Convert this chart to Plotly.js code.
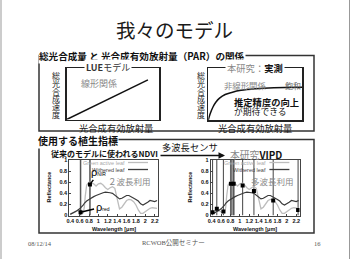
<!DOCTYPE html>
<html><head><meta charset="utf-8">
<script src="https://cdn.plot.ly/plotly-3.0.1.min.js"></script>
<style>html,body{margin:0;padding:0;background:#fff}#c{width:351px;height:259px}</style>
</head><body><div id="c"></div>
<script>
// ---- data ----
const parLinear = [0, 0.88];
const gppLinear = [0, 0.77];
const parCurve = [0, 0.02, 0.05, 0.08, 0.12, 0.18, 0.25, 0.35, 0.5, 0.7, 1.0];
const gppCurve = [0, 0.12, 0.25, 0.34, 0.42, 0.49, 0.53, 0.57, 0.6, 0.62, 0.63];
const wavelength = [0.40,0.45,0.50,0.55,0.60,0.65,0.68,0.70,0.72,0.75,0.80,0.85,0.90,0.95,1.00,1.05,1.10,1.15,1.20,1.25,1.30,1.35,1.40,1.45,1.50,1.55,1.60,1.65,1.70,1.75,1.80,1.85,1.90,1.95,2.00,2.05,2.10,2.15,2.20,2.25];
const greenActiveLeaf = [0.03,0.04,0.06,0.09,0.06,0.04,0.05,0.15,0.35,0.55,0.60,0.58,0.57,0.53,0.57,0.58,0.55,0.50,0.47,0.50,0.52,0.49,0.28,0.12,0.15,0.22,0.27,0.29,0.28,0.25,0.19,0.10,0.04,0.04,0.07,0.10,0.13,0.14,0.14,0.13];
const witheredLeaf = [0.02,0.04,0.06,0.09,0.12,0.16,0.19,0.22,0.24,0.26,0.29,0.32,0.34,0.36,0.38,0.40,0.41,0.42,0.42,0.41,0.40,0.37,0.33,0.30,0.31,0.34,0.36,0.36,0.34,0.32,0.29,0.26,0.21,0.19,0.21,0.24,0.27,0.26,0.25,0.27];
const ndviBands = [0.62, 0.82];
const ndviReflectance = [0.06, 0.56];
const vipdBands = [0.42, 0.51, 0.65, 0.81, 0.87, 1.06, 1.30, 1.71, 2.24];
const vipdReflectance = [0.06, 0.12, 0.07, 0.57, 0.57, 0.54, 0.44, 0.27, 0.10];
const vipdNirBand = [0.79, 0.89];
const xTickVals = [0.4,0.6,0.8,1.0,1.2,1.4,1.6,1.8,2.0,2.2];
const xTickText = ["0.4","0.6","0.8","1","1.2","1.4","1.6","1.8","2","2.2"];
const yTickVals = [0,0.2,0.4,0.6,0.8,1];
const yTickText = ["0","0.2","0.4","0.6","0.8","1"];

// ---- layout helpers ----
const W = 351, H = 259;
const px = x => x / W, py = y => 1 - y / H;
const JP = '"Noto Sans CJK JP", "Noto Sans", sans-serif';
const SANS = '"Liberation Sans", Arial, sans-serif';
const SERIF = '"Liberation Serif", "DejaVu Serif", "Noto Sans CJK JP", serif';
function ann(x, y, text, size, color, extra) {
  return Object.assign({xref:'paper', yref:'paper', x:px(x), y:py(y), text:text, showarrow:false,
    font:{family:JP, size:size, color:color}, xanchor:'center', yanchor:'middle'}, extra || {});
}
function vtext(x, yCenter0, str, size, step) {
  return Array.from(str).map((ch, i) => ann(x, yCenter0 + i * step, ch, size, '#222',
    {borderpad:0, font:{family:JP, size:size, color:'#222'}}));
}
function dom(a, b, n) { return [a / n, b / n]; }
function ydom(top, bot) { return [1 - bot / H, 1 - top / H]; }

const boxAxis = {range:[0,1], showline:true, mirror:true, linecolor:'#222', linewidth:1.5, showgrid:false, zeroline:false, showticklabels:false, ticks:'', fixedrange:true};
const specX = {range:[0.38,2.27], showline:true, mirror:true, linecolor:'#444', linewidth:1, showgrid:false, zeroline:false,
  tickvals:xTickVals, ticktext:xTickText, tickangle:0, ticks:'inside', ticklen:2, tickcolor:'#444',
  tickfont:{family:SANS, size:5.5, color:'#111', weight:'bold'}, fixedrange:true};
const specY = {range:[0,1.0], showline:true, mirror:true, linecolor:'#444', linewidth:1, showgrid:false, zeroline:false,
  tickvals:yTickVals, ticktext:yTickText, ticks:'inside', ticklen:2, tickcolor:'#444',
  tickfont:{family:SANS, size:5.5, color:'#111', weight:'bold'}, fixedrange:true};

const LIGHT = '#bdbdbd', DARK = '#3a3a3a';
const traces = [
  {x:parLinear, y:gppLinear, xaxis:'x', yaxis:'y', mode:'lines', line:{color:'#111', width:1.5}},
  {x:parCurve, y:gppCurve, xaxis:'x2', yaxis:'y2', mode:'lines', line:{color:'#111', width:1.5, shape:'spline'}},
  {x:wavelength, y:greenActiveLeaf, xaxis:'x3', yaxis:'y3', mode:'lines', line:{color:LIGHT, width:1.3}},
  {x:wavelength, y:witheredLeaf, xaxis:'x3', yaxis:'y3', mode:'lines', line:{color:DARK, width:1.2}},
  {x:ndviBands, y:ndviReflectance, xaxis:'x3', yaxis:'y3', mode:'markers', marker:{symbol:'square', size:4, color:'#000'}},
  {x:wavelength, y:greenActiveLeaf, xaxis:'x4', yaxis:'y4', mode:'lines', line:{color:LIGHT, width:1.3}},
  {x:wavelength, y:witheredLeaf, xaxis:'x4', yaxis:'y4', mode:'lines', line:{color:DARK, width:1.2}},
  {x:vipdBands, y:vipdReflectance, xaxis:'x4', yaxis:'y4', mode:'markers', marker:{symbol:'square', size:4, color:'#000'}}
];

const shapes = [];
// slide border
shapes.push({type:'line', xref:'paper', yref:'paper', x0:px(1), x1:px(1), y0:0, y1:1, line:{color:'#999', width:1}});
shapes.push({type:'line', xref:'paper', yref:'paper', x0:px(349.5), x1:px(349.5), y0:0, y1:1, line:{color:'#999', width:1}});
// outer boxes
shapes.push({type:'rect', xref:'paper', yref:'paper', x0:px(39), x1:px(314), y0:py(131), y1:py(55.5), line:{color:'#333', width:1.5}});
shapes.push({type:'rect', xref:'paper', yref:'paper', x0:px(39), x1:px(314), y0:py(233), y1:py(139.5), line:{color:'#333', width:1.5}});
// band lines
ndviBands.forEach(b => shapes.push({type:'line', xref:'x3', yref:'y3', x0:b, x1:b, y0:0, y1:1, layer:'below', line:{color:'#555', width:1.5}}));
shapes.push({type:'rect', xref:'x4', yref:'y4', x0:vipdNirBand[0], x1:vipdNirBand[1], y0:0, y1:1, layer:'below', fillcolor:'#999', line:{width:0}});
vipdBands.forEach(b => shapes.push({type:'line', xref:'x4', yref:'y4', x0:b, x1:b, y0:0, y1:1, layer:'below', line:{color:'#444', width:1}}));
// legend samples
[0, 141.4].forEach(dx => {
  shapes.push({type:'line', xref:'paper', yref:'paper', x0:px(128+dx), x1:px(148+dx), y0:py(162.5), y1:py(162.5), line:{color:LIGHT, width:1.3}});
  shapes.push({type:'line', xref:'paper', yref:'paper', x0:px(128+dx), x1:px(148+dx), y0:py(169.5), y1:py(169.5), line:{color:DARK, width:1.3}});
});

const annotations = [
  ann(174, 29, '我々のモデル', 19.5, '#1a1a1a'),
  ann(38, 56, '総光合成量 と 光合成有効放射量（PAR）の関係', 9.6, '#111', {xanchor:'left', bgcolor:'#fff', borderpad:0, font:{family:JP, size:9.6, color:'#111', weight:'bold'}}),
  ann(108, 68, '<b>LUE</b>モデル', 9, '#333', {bgcolor:'#fff', borderpad:1}),
  ann(98.5, 83.5, '線形関係', 9, '#888'),
  ann(115.5, 128, '光合成有効放射量', 9.3, '#1a1a1a'),
  ann(255, 68, '<span style="color:#888">本研究：</span><b>実測</b>', 9.3, '#111', {bgcolor:'#fff', borderpad:1}),
  ann(246, 85, '非線形関係', 8.4, '#888'),
  ann(292.5, 85, '飽和', 8, '#666'),
  ann(232, 102, '推定精度の向上', 9.3, '#111', {xanchor:'left', font:{family:JP, size:9.3, color:'#111', weight:'bold'}}),
  ann(232, 111.5, 'が期待できる', 8.8, '#111', {xanchor:'left'}),
  ann(255, 128, '光合成有効放射量', 9.3, '#1a1a1a'),
  ann(36.5, 140, '使用する植生指標', 10, '#111', {xanchor:'left', bgcolor:'#fff', borderpad:0, font:{family:JP, size:10, color:'#111', weight:'bold'}}),
  ann(104.5, 153.5, '従来のモデルに使われるNDVI', 8, '#111', {font:{family:JP, size:8, color:'#111', weight:'bold'}}),
  ann(190.5, 147, '多波長センサ', 9.3, '#111'),
  {xref:'paper', yref:'paper', x:px(225), y:py(155.5), ax:-66, ay:0, text:'', showarrow:true, arrowhead:2, arrowsize:1, arrowwidth:1.3, arrowcolor:'#111', standoff:0},
  ann(255.5, 154.5, '<span style="color:#888">本研究</span><b>VIPD</b>', 9.8, '#111'),
  // legends
  ann(127, 162.5, 'Green active leaf', 5.5, '#aaa', {xanchor:'right', font:{family:SANS, size:5.5, color:'#aaa'}}),
  ann(127, 169.5, 'Withered leaf', 5.5, '#444', {xanchor:'right', font:{family:SANS, size:5.5, color:'#444'}}),
  ann(268.4, 162.5, 'Green active leaf', 5.5, '#aaa', {xanchor:'right', font:{family:SANS, size:5.5, color:'#aaa'}}),
  ann(268.4, 169.5, 'Withered leaf', 5.5, '#444', {xanchor:'right', font:{family:SANS, size:5.5, color:'#444'}}),
  ann(129, 181, '２波長利用', 8.5, '#888'),
  ann(272.5, 180.5, '多波長利用', 8.5, '#888'),
  // axis titles of spectra
  ann(48, 187.5, 'Reflectance', 5.5, '#111', {textangle:-90, font:{family:SANS, size:5.5, color:'#111', weight:'bold'}}),
  ann(189, 187.5, 'Reflectance', 5.5, '#111', {textangle:-90, font:{family:SANS, size:5.5, color:'#111', weight:'bold'}}),
  ann(113.5, 228.5, 'Wavelength [μm]', 5.5, '#111', {font:{family:SANS, size:5.5, color:'#111', weight:'bold'}}),
  ann(255, 228.5, 'Wavelength [μm]', 5.5, '#111', {font:{family:SANS, size:5.5, color:'#111', weight:'bold'}}),
  // rho markers
  {xref:'x3', yref:'y3', x:ndviBands[1], y:ndviReflectance[1], ax:9, ay:-12, text:'ρ<span style="font-size:5px">NIR</span>', showarrow:true, arrowhead:0, arrowwidth:1.5, arrowcolor:'#000', standoff:1, font:{family:SANS, size:11, color:'#000'}},
  {xref:'x3', yref:'y3', x:ndviBands[0], y:ndviReflectance[0], ax:22, ay:-5, text:'ρ<span style="font-size:5px">red</span>', showarrow:true, arrowhead:0, arrowwidth:1.5, arrowcolor:'#000', standoff:1, font:{family:SANS, size:11, color:'#000'}},
  // footer
  ann(40, 243, '08/12/14', 6.5, '#555', {font:{family:SERIF, size:6.5, color:'#555'}}),
  ann(173, 243, 'RCWOB公開セミナー', 6.5, '#555', {font:{family:SERIF, size:6.5, color:'#555'}}),
  ann(317, 243, '16', 6.5, '#555', {font:{family:SERIF, size:6.5, color:'#555'}})
].concat(vtext(55.5, 75.5, '総光合成速度', 8, 7.8), vtext(201, 75.5, '総光合成速度', 8, 7.8));

const layout = {
  width:W, height:H, margin:{l:0, r:0, t:0, b:0}, showlegend:false,
  paper_bgcolor:'#fff', plot_bgcolor:'rgba(0,0,0,0)',
  xaxis: Object.assign({}, boxAxis, {domain:dom(66.7, 159, W), anchor:'y'}),
  yaxis: Object.assign({}, boxAxis, {domain:ydom(68, 119.5), anchor:'x'}),
  xaxis2: Object.assign({}, boxAxis, {domain:dom(208.3, 302, W), anchor:'y2'}),
  yaxis2: Object.assign({}, boxAxis, {domain:ydom(68, 120), anchor:'x2'}),
  xaxis3: Object.assign({}, specX, {domain:dom(69.3, 158, W), anchor:'y3'}),
  yaxis3: Object.assign({}, specY, {domain:ydom(160, 215.5), anchor:'x3'}),
  xaxis4: Object.assign({}, specX, {domain:dom(210.7, 299.5, W), anchor:'y4'}),
  yaxis4: Object.assign({}, specY, {domain:ydom(160, 215.5), anchor:'x4'}),
  shapes:shapes, annotations:annotations
};
Plotly.newPlot('c', traces, layout, {staticPlot:true, displayModeBar:false});
</script></body></html>
